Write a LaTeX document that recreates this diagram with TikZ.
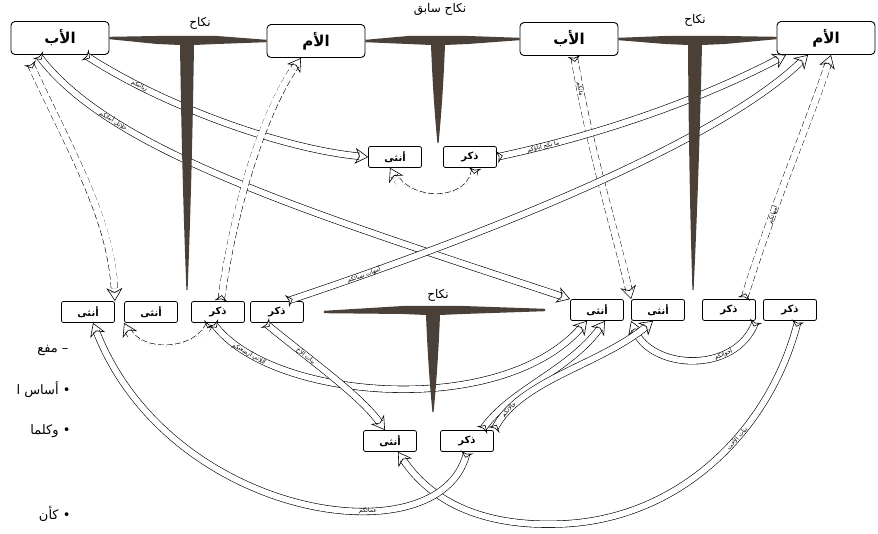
\documentclass[tikz,border=0pt]{standalone}
\usepackage{fontspec}
\newfontfamily\arabicfont[Script=Arabic]{DejaVu Sans}
\TeXXeTstate=1
\usetikzlibrary{arrows.meta,calc}
\definecolor{barbrown}{HTML}{4A4038}

\tikzset{
  bigbox/.style={draw, line width=0.9pt, fill=white, rounded corners=4pt, minimum width=98pt, minimum height=33pt, inner sep=1pt, font=\arabicfont\bfseries\fontsize{15}{15}\selectfont},
  smallbox/.style={draw, line width=0.8pt, fill=white, rounded corners=2pt, minimum width=53pt, minimum height=21pt, inner sep=1pt, font=\arabicfont\bfseries\fontsize{10}{10}\selectfont},
  band/.style={double=white, double distance=6pt, line width=0.6pt,
    {Stealth[open,reversed,length=6pt,width=13pt,inset=2pt]}-{Stealth[open,length=13pt,width=16pt,inset=4pt]}},
  dband/.style={band, dash pattern=on 6pt off 3pt,
    postaction={draw=white, solid, line width=6pt, arrows=-, shorten <=7pt, shorten >=14pt}},
  bandlabel/.style={sloped, inner sep=0pt, font=\arabicfont\fontsize{6}{6}\selectfont},
  tbar/.style={fill=barbrown},
  nklabel/.style={font=\arabicfont\fontsize{12}{12}\selectfont},
  note/.style={anchor=east, font=\arabicfont\fontsize{13}{13}\selectfont}
}

% thick marriage bar with a stem: left end, right end, junction, foot
\newcommand{\nikahbar}[4]{%
  \fill[tbar] ($(#1)+(0,-1.2)$) -- ($(#3)+(-30,-4)$) -- ($(#3)+(30,-4)$) -- ($(#2)+(0,-1.2)$)
    -- ($(#2)+(0,1.2)$) -- ($(#3)+(30,4)$) -- ($(#3)+(7,5)$)
    .. controls ($(#3)!0.55!(#4)+(5,0)$) and ($(#3)!0.85!(#4)+(2,0)$) .. ($(#4)+(0.6,0)$) -- ($(#4)+(-0.6,0)$)
    .. controls ($(#3)!0.85!(#4)+(-2,0)$) and ($(#3)!0.55!(#4)+(-5,0)$) .. ($(#3)+(-7,5)$) -- ($(#3)+(-30,4)$)
    -- ($(#1)+(0,1.2)$) -- cycle;}

\begin{document}
\begin{tikzpicture}[x=1pt,y=-1pt,>=Stealth]
\useasboundingbox (0,0) rectangle (878,534);

% parents
\node[bigbox] (fatherL) at (60,38) {\beginR الأب\endR};
\node[bigbox] (motherL) at (316,41) {\beginR الأم\endR};
\node[bigbox] (fatherR) at (569,39) {\beginR الأب\endR};
\node[bigbox] (motherR) at (826,38) {\beginR الأم\endR};

% children of the earlier marriage
\node[smallbox] (girlT) at (395,157) {\beginR أنثى\endR};
\node[smallbox] (boyT) at (470,157) {\beginR ذكر\endR};

% second generation
\node[smallbox] (gL1) at (88,312) {\beginR أنثى\endR};
\node[smallbox] (gL2) at (151,312) {\beginR أنثى\endR};
\node[smallbox] (bL1) at (218,312) {\beginR ذكر\endR};
\node[smallbox] (bL2) at (277,312) {\beginR ذكر\endR};
\node[smallbox] (gR1) at (597,310) {\beginR أنثى\endR};
\node[smallbox] (gR2) at (658,310) {\beginR أنثى\endR};
\node[smallbox] (bR1) at (729,310) {\beginR ذكر\endR};
\node[smallbox] (bR2) at (790,310) {\beginR ذكر\endR};

% grandchildren
\node[smallbox] (girlB) at (390,441) {\beginR أنثى\endR};
\node[smallbox] (boyB) at (467,441) {\beginR ذكر\endR};

% cut-off notes on the left
\node[note] (n1) at (72,350) {\beginR – مفع\endR};
\node[note] (n2) at (74,390) {\beginR • أساس ا\endR};
\node[note] (n3) at (74,431) {\beginR • وكلما\endR};
\node[note] (n4) at (74,514) {\beginR • كأن\endR};

% bands
\draw[dband] ([xshift=-30pt,yshift=-8pt]fatherL.south) .. controls (70,150) and (112,220) .. (gL1.north east);
\draw[band] ([xshift=-22pt]fatherL.south) .. controls (110,150) and (300,210) .. (gR1.north west)
  node[bandlabel,pos=0.25] {\beginR حلائل أبنائكم\endR};
\draw[band] ([xshift=25pt]fatherL.south) .. controls (170,110) and (290,150) .. (girlT.west)
  node[bandlabel,pos=0.2] {\beginR ربائبكم\endR};
\draw[dband] ([xshift=3pt]bL1.north) .. controls (235,200) and (265,110) .. ([xshift=-15pt]motherL.south);
\draw[dband] ([xshift=5pt]fatherR.south) .. controls (590,150) and (615,230) .. (gR2.north west)
  node[bandlabel,pos=0.12] {\beginR بناتكم\endR};
\draw[band] ([xshift=10pt]bL2.north) .. controls (500,230) and (720,140) .. ([xshift=-18pt]motherR.south)
  node[bandlabel,pos=0.12] {\beginR أمهات نسائكم\endR};
\draw[band] (boyT.east) .. controls (600,135) and (700,100) .. ([xshift=-40pt]motherR.south)
  node[bandlabel,pos=0.15] {\beginR ما نكح آباؤكم\endR};
\draw[dband] ([xshift=15pt]bR1.north) .. controls (775,200) and (810,120) .. ([xshift=5pt]motherR.south)
  node[bandlabel,pos=0.3] {\beginR أمهاتكم\endR};
\draw[dband] ([xshift=5pt]boyT.south) .. controls (470,205) and (410,205) .. ([xshift=-5pt]girlT.south);
\draw[dband] ([xshift=-8pt]bL1.south) .. controls (195,355) and (140,355) .. (gL2.south west);

\draw[band] ([xshift=8pt]bR2.south) .. controls (770,430) and (680,520) .. (560,524)
  node[bandlabel,pos=0.4] {\beginR بنات الأخت\endR}
  .. controls (480,527) and (430,500) .. ([xshift=8pt]girlB.south);
\draw[band] (boyB.south) .. controls (440,560) and (170,520) .. ([xshift=5pt]gL1.south)
  node[bandlabel,pos=0.35] {\beginR عماتكم\endR};
\draw[band] ([xshift=-5pt]bL1.south) .. controls (270,400) and (500,420) .. ([xshift=-10pt]gR1.south)
  node[bandlabel,pos=0.15] {\beginR اللاتي أرضعنكم\endR};
\draw[band] ([xshift=-12pt]bL2.south) .. controls (310,360) and (360,395) .. ([xshift=-5pt]girlB.north)
  node[bandlabel,pos=0.3] {\beginR بنات الأخ\endR};
\draw[band] (bR1.south east) .. controls (735,375) and (650,370) .. (gR2.south west)
  node[bandlabel,pos=0.3] {\beginR أخواتكم\endR};
\draw[band] ([xshift=15pt]boyB.north) .. controls (510,390) and (570,370) .. ([xshift=8pt]gR1.south);
\draw[band] (boyB.north east) .. controls (520,380) and (600,365) .. ([xshift=-5pt]gR2.south)
  node[bandlabel,pos=0.15] {\beginR خالاتكم\endR};

% marriages
\coordinate (nk1) at (187,40);
\coordinate (nk1f) at (187,290);
\coordinate (nk2) at (438,40);
\coordinate (nk2f) at (438,143);
\coordinate (nk3) at (695,40);
\coordinate (nk3f) at (693,290);
\coordinate (nk4) at (433,310);
\coordinate (nk4f) at (433,412);
\coordinate (nk4L) at ($(bL2.east)+(20,0)$);
\coordinate (nk4R) at ($(gR1.west)+(-25,0)$);
\nikahbar{fatherL.east}{motherL.west}{nk1}{nk1f}
\nikahbar{motherL.east}{fatherR.west}{nk2}{nk2f}
\nikahbar{fatherR.east}{motherR.west}{nk3}{nk3f}
\nikahbar{nk4L}{nk4R}{nk4}{nk4f}
\node[nklabel] (nk1lbl) at (200,23) {\beginR نكاح\endR};
\node[nklabel] (nk2lbl) at (440,9) {\beginR نكاح سابق\endR};
\node[nklabel] (nk3lbl) at (695,20) {\beginR نكاح\endR};
\node[nklabel] (nk4lbl) at (438,295) {\beginR نكاح\endR};
\end{tikzpicture}
\end{document}
